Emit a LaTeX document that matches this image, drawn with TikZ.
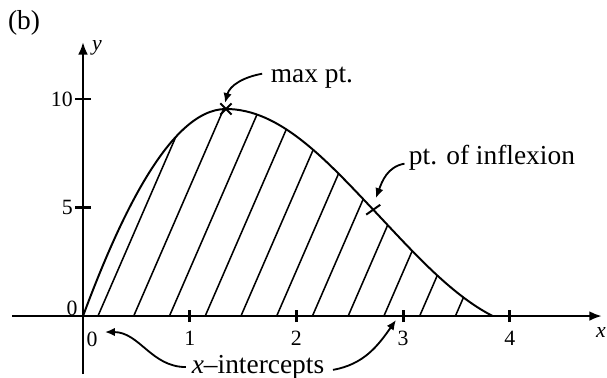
\documentclass[tikz,border=0pt]{standalone}
\usepackage{fontspec}
\setmainfont{Liberation Serif}
\usetikzlibrary{arrows.meta}

\tikzset{
  axis/.style={line width=2pt},
  curve/.style={line width=1.4pt},
  hatch/.style={line width=1.1pt},
  callout/.style={line width=1.3pt, -{Latex[length=7pt,width=6pt]}},
  lbl/.style={font=\fontsize{19.5}{22}\selectfont, inner sep=1pt},
  num/.style={font=\fontsize{15.5}{18}\selectfont, inner sep=1pt},
}

\begin{document}
\begin{tikzpicture}[x=2.667cm, y=0.5425cm]
\def\xmin{-0.665}
\def\xmax{4.864}
\def\ymin{-2.673}
\def\ymax{12.63}

\useasboundingbox (-0.778,-2.811) rectangle (4.911,14.562);

\coordinate (O) at (0,0);
\coordinate (M) at (1.34,9.54);
\coordinate (I) at (2.72,4.9);
\coordinate (E) at (3.84,0);
\coordinate (Mtip) at (1.331,9.82);
\coordinate (Itip) at (2.746,5.44);
\coordinate (Ltip) at (0.206,-0.737);
\coordinate (Rtip) at (2.933,-0.184);

% shaded region
\path[save path=\curvepath] (O) .. controls (0.3,3.96) and (0.79,9.54) .. (M)
  .. controls (1.84,9.54) and (2.27,7.24) .. (I)
  .. controls (3.07,3.08) and (3.44,1.0) .. (E);
\begin{scope}
\clip[use path=\curvepath];
\foreach \k in {0,...,10}
  \draw[hatch] ({0.14+0.335*\k},0) -- ++(1.6,18.1);
\end{scope}
\draw[curve, use path=\curvepath];

% axes
\draw[axis, -{Latex[length=9pt,width=7pt]}] (\xmin,0) -- (\xmax,0);
\draw[axis, -{Latex[length=9pt,width=7pt]}] (0,\ymin) -- (0,\ymax);
\foreach \x in {1,2,3,4} {
  \draw[axis] (\x,0) +(0,-0.15cm) -- +(0,0.15cm);
  \node[num] (t\x) at (\x,-1.01) {\x};
}
\foreach \y in {5,10} {
  \draw[axis] (0,\y) +(-0.2cm,0) -- +(0.2cm,0);
  \node[num, left] (l\y) at (-0.08,\y) {\y};
}
\node[num] (lx) at (4.855,-0.74) {\itshape x};
\node[num] (ly) at (0.131,12.35) {\itshape y};
\node[num] (l0) at (-0.103,0.369) {0};
\node[num] (t0) at (0.084,-1.06) {0};
\node[lbl] (lb) at (-0.553,13.50) {(b)};

% marks
\draw[curve] (M) +(-4pt,-4pt) -- +(4pt,4pt) (M) +(-4pt,4pt) -- +(4pt,-4pt);
\draw[curve] (I) +(-5pt,-3.5pt) -- +(5pt,3.5pt);

% labels
\node[lbl] (lmax) at (2.146,10.97) {max pt.};
\node[lbl] (linf) at (3.833,7.28) {pt. of inflexion};
\node[lbl] (lint) at (1.640,-2.35) {{\itshape x}–intercepts};

\draw[callout] ([xshift=-5pt,yshift=3pt]lmax.west) to[out=190,in=75] (Mtip);
\draw[callout] ([xshift=-2pt,yshift=-4pt]linf.west) to[out=190,in=70] (Itip);
\draw[callout] ([xshift=-3pt]lint.west) to[out=180,in=0] (Ltip);
\draw[callout] ([xshift=5pt,yshift=-2pt]lint.east) to[out=10,in=235] (Rtip);
\end{tikzpicture}
\end{document}
